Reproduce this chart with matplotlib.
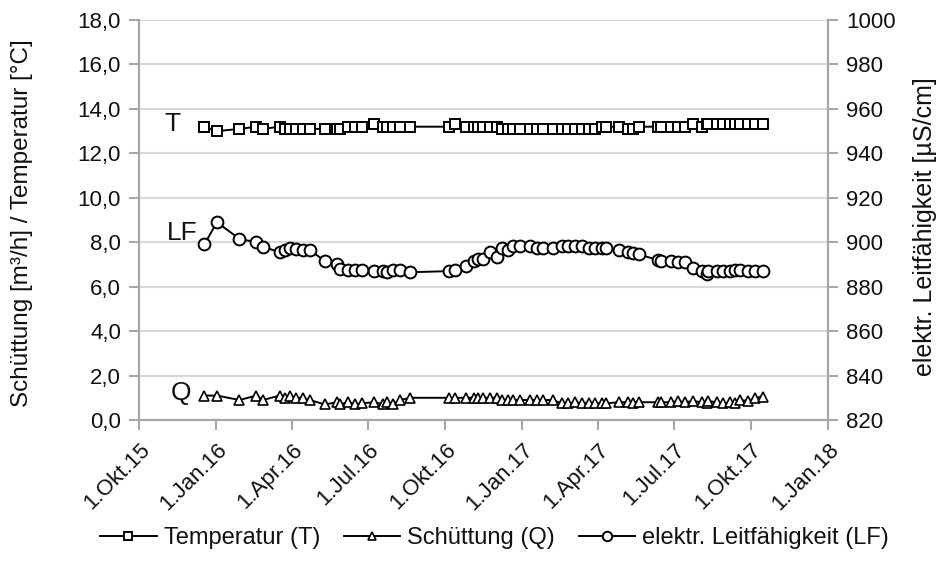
import pandas as pd
import matplotlib.pyplot as plt
from matplotlib.ticker import FuncFormatter

plt.rcParams['font.family'] = ['Liberation Sans', 'DejaVu Sans']

# Messtermine und Messwerte
dates = pd.to_datetime([
    '2015-12-18', '2016-01-02', '2016-01-29', '2016-02-18', '2016-02-26', '2016-03-17',
    '2016-03-23', '2016-03-29', '2016-04-06', '2016-04-14', '2016-04-22', '2016-05-10',
    '2016-05-24', '2016-05-28', '2016-06-07', '2016-06-15', '2016-06-23', '2016-07-08',
    '2016-07-19', '2016-07-23', '2016-07-30', '2016-08-08', '2016-08-20', '2016-10-05',
    '2016-10-13', '2016-10-25', '2016-11-04', '2016-11-09', '2016-11-15', '2016-11-23',
    '2016-12-01', '2016-12-07', '2016-12-15', '2016-12-21', '2016-12-29', '2017-01-10',
    '2017-01-18', '2017-01-26', '2017-02-06', '2017-02-17', '2017-02-25', '2017-03-05',
    '2017-03-13', '2017-03-21', '2017-03-29', '2017-04-06', '2017-04-11', '2017-04-26',
    '2017-05-07', '2017-05-13', '2017-05-20', '2017-06-12', '2017-06-16', '2017-06-28',
    '2017-07-06', '2017-07-14', '2017-07-24', '2017-08-03', '2017-08-09', '2017-08-11',
    '2017-08-21', '2017-08-29', '2017-09-06', '2017-09-12', '2017-09-18', '2017-09-28',
    '2017-10-06', '2017-10-15',
])

temperatur = [
    13.2, 13.0, 13.1, 13.2, 13.1, 13.2, 13.1, 13.1, 13.1, 13.1, 13.1, 13.1,
    13.1, 13.1, 13.2, 13.2, 13.2, 13.3, 13.2, 13.2, 13.2, 13.2, 13.2, 13.2,
    13.3, 13.2, 13.2, 13.2, 13.2, 13.2, 13.2, 13.1, 13.1, 13.1, 13.1, 13.1,
    13.1, 13.1, 13.1, 13.1, 13.1, 13.1, 13.1, 13.1, 13.1, 13.2, 13.2, 13.2,
    13.1, 13.1, 13.2, 13.2, 13.2, 13.2, 13.2, 13.2, 13.3, 13.2, 13.3, 13.3,
    13.3, 13.3, 13.3, 13.3, 13.3, 13.3, 13.3, 13.3,
]

schuettung = [
    1.1, 1.1, 0.9, 1.1, 0.9, 1.1, 1.0, 1.1, 1.0, 1.0, 0.9, 0.7,
    0.8, 0.7, 0.8, 0.7, 0.75, 0.8, 0.7, 0.8, 0.7, 0.9, 1.0, 1.0,
    1.0, 1.0, 1.0, 1.0, 1.0, 1.0, 1.0, 0.9, 0.9, 0.9, 0.9, 0.9,
    0.9, 0.9, 0.9, 0.75, 0.75, 0.8, 0.75, 0.75, 0.75, 0.75, 0.75, 0.8,
    0.8, 0.75, 0.8, 0.8, 0.8, 0.8, 0.85, 0.8, 0.85, 0.8, 0.75, 0.85,
    0.8, 0.75, 0.8, 0.75, 0.9, 0.85, 1.0, 1.05,
]

leitfaehigkeit = [
    899.0, 909.0, 901.5, 900.0, 898.0, 895.5, 896.5, 897.5, 897.0, 896.5, 896.5, 891.5,
    890.0, 888.0, 887.5, 887.5, 887.5, 887.0, 887.0, 886.5, 887.5, 887.5, 886.5, 887.0,
    887.5, 889.5, 891.5, 892.5, 892.5, 895.5, 893.5, 897.5, 896.5, 898.5, 898.5, 898.5,
    897.5, 897.5, 897.5, 898.5, 898.5, 898.5, 898.5, 897.5, 897.5, 897.5, 897.5, 896.5,
    895.5, 895.0, 894.5, 892.0, 891.5, 891.5, 891.0, 891.0, 888.5, 887.0, 885.5, 887.0,
    887.0, 887.0, 887.0, 887.5, 887.5, 887.0, 887.0, 887.0,
]

x_ticks = pd.date_range('2015-10-01', '2018-01-01', freq='QS-OCT')
x_tick_labels = ['1.Okt.15', '1.Jan.16', '1.Apr.16', '1.Jul.16', '1.Okt.16',
                 '1.Jan.17', '1.Apr.17', '1.Jul.17', '1.Okt.17', '1.Jan.18']

fig = plt.figure(figsize=(9.42, 5.64), dpi=100)
ax = fig.add_axes([0.1476, 0.2553, 0.7314, 0.7092])
ax2 = ax.twinx()

axis_grey = '#a6a6a6'
text_col = '#111111'

l1, = ax.plot(dates, temperatur, color='black', lw=1.4, marker='s', ms=7.5,
              mfc='white', mec='black', mew=1.4, label='Temperatur (T)')
l2, = ax.plot(dates, schuettung, color='black', lw=1.4, marker='^', ms=7,
              mfc='white', mec='black', mew=1.2, label='Schüttung (Q)')
l3, = ax2.plot(dates, leitfaehigkeit, color='black', lw=1.4, marker='o', ms=8.5,
               mfc='white', mec='black', mew=1.4, label='elektr. Leitfähigkeit (LF)')

ax.set_xlim(x_ticks[0], x_ticks[-1])
ax.set_ylim(0, 18)
ax2.set_ylim(820, 1000)
ax.set_yticks(range(0, 19, 2))
ax2.set_yticks(range(820, 1001, 20))
ax.yaxis.set_major_formatter(FuncFormatter(lambda v, p: f'{v:.1f}'.replace('.', ',')))

ax.set_xticks(x_ticks)
ax.set_xticklabels(x_tick_labels, rotation=45, ha='right', rotation_mode='anchor')

ax.grid(axis='y', color='#d9d9d9', lw=1.5)
ax.set_axisbelow(True)

for a in (ax, ax2):
    a.spines['top'].set_visible(False)
    for side in ('left', 'bottom', 'right'):
        a.spines[side].set_color(axis_grey)
        a.spines[side].set_linewidth(1.5)
    a.tick_params(colors=axis_grey, labelcolor=text_col, labelsize=16,
                  width=1.5, length=7, pad=6)
ax.tick_params(axis='x', pad=7)

# Achsentitel
fig.text(22 / 942, 0.605, 'Schüttung [m³/h] / Temperatur [°C]', rotation=90,
         ha='center', va='center', fontsize=17.5, color=text_col)
fig.text(925 / 942, 0.598, 'elektr. Leitfähigkeit [µS/cm]', rotation=90,
         ha='center', va='center', fontsize=18, color=text_col)

# Kurzbezeichnungen der Reihen
ax.text(pd.Timestamp('2015-11-10'), 13.3, 'T', fontsize=19, ha='center', va='center', color=text_col)
ax.text(pd.Timestamp('2015-11-22'), 8.4, 'LF', fontsize=19, ha='center', va='center', color=text_col)
ax.text(pd.Timestamp('2015-11-20'), 1.2, 'Q', fontsize=19, ha='center', va='center', color=text_col)

leg = fig.legend(handles=[l1, l2, l3], loc='center', bbox_to_anchor=(0.525, 0.046),
                 ncol=3, frameon=False, fontsize=17, handlelength=2.4,
                 columnspacing=1.0, handletextpad=0.3, markerscale=0.8)
for t in leg.get_texts():
    t.set_color(text_col)

fig.savefig('out.png', dpi=100)
